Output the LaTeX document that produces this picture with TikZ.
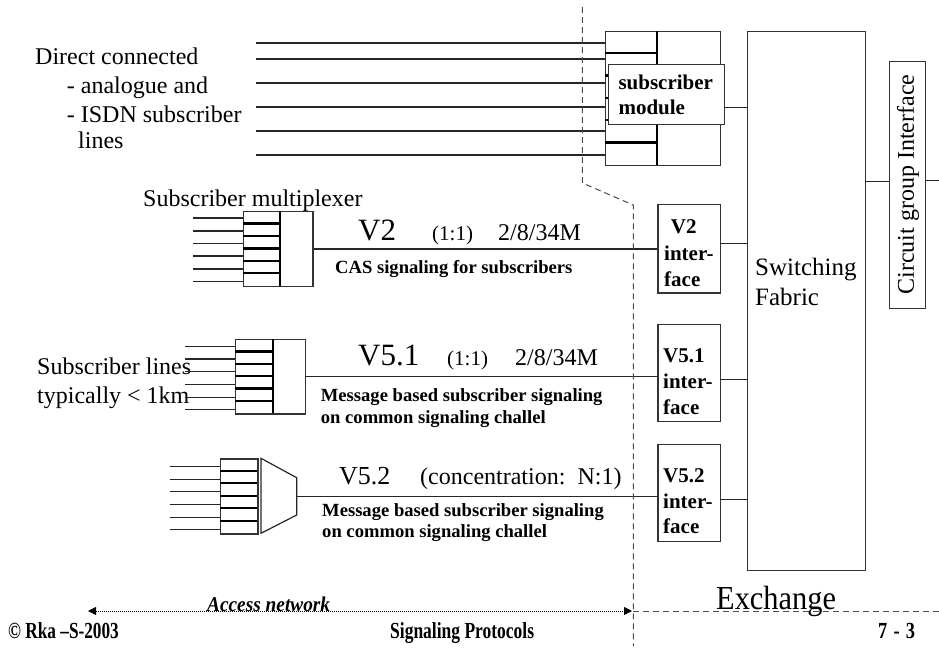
\documentclass[tikz,border=0pt]{standalone}
\usepackage{fontspec}
\setmainfont{Liberation Serif}
\usetikzlibrary{arrows.meta,calc}
\newcommand\fsz[2]{\fontsize{#1}{#2}\selectfont}
\begin{document}
\begin{tikzpicture}[x=1pt,y=-1pt,
  wire/.style={line width=1.1pt, draw=black!85},
  sepline/.style={line width=2.3pt, draw=black},
  boundary/.style={dash pattern=on 6pt off 4pt, line width=1pt, draw=black!70},
  box/.style={draw=black!80, line width=1.2pt, fill=white, inner sep=0pt, anchor=north west},
  lbl/.style={anchor=base west, inner sep=0pt},
  plain/.style={lbl, font=\fsz{24}{28}},
  big/.style={lbl, font=\fsz{31}{36}},
  note/.style={lbl, font=\bfseries\fsz{18.6}{22}},
  iftext/.style={lbl, font=\bfseries\fsz{21}{25}},
  foot/.style={lbl, font=\bfseries\fsz{23}{27}},
]
\useasboundingbox (0,0) rectangle (939,651);

% ---------- exchange side ----------
\node[box, minimum width=118.3pt, minimum height=539.3pt] (fabric) at (746.7,30.7) {};
\node[box, minimum width=36pt, minimum height=247.3pt] (cgi) at (889,60.7) {};
\node[rotate=90, font=\fsz{24}{28}, inner sep=0pt] (cgitext) at (908,184.5) {Circuit group Interface};
\node[plain, font=\fsz{25}{30}] (sw1) at (755,275) {Switching};
\node[plain, font=\fsz{25}{30}] (sw2) at (755,305) {Fabric};

\coordinate (cgin) at ([yshift=3.6pt]cgi.west);
\coordinate (cgout) at (939,180.7);
\draw[wire] (fabric.east |- cgin) -- (cgin);
\draw[wire] (cgi.east |- cgout) -- (cgout);

% ---------- directly connected subscriber lines ----------
\node[box, minimum width=115pt, minimum height=134.3pt] (tb) at (605,30.7) {};
\draw[sepline] (656.7,30.7) -- (656.7,165);
\foreach \k in {1,...,5} {
  \draw[sepline] (605,30.7+22.38*\k) -- (656.7,30.7+22.38*\k);
}
\foreach \y [count=\i] in {43,59,83,107,131,155} {
  \coordinate (d\i) at (256,\y);
  \draw[wire] (d\i) -- (tb.west |- d\i);
}
\node[box, minimum width=116pt, minimum height=60pt] (module) at (608,64) {};
\node[iftext] (mt1) at (618.3,89) {subscriber};
\node[iftext] (mt2) at (618.3,114) {module};
\draw[wire] ([yshift=-12.7pt]module.east) -- ([yshift=-12.7pt]module.east -| fabric.west);

\node[plain] (dc1) at (35,64) {Direct connected};
\node[plain] (dc2) at (66.7,93) {- analogue and};
\node[plain] (dc3) at (66.7,122) {- ISDN subscriber};
\node[plain] (dc4) at (78,148) {lines};

% ---------- V2 ----------
\node[plain] (muxlbl) at (143,206) {Subscriber multiplexer};
\node[box, minimum width=69.6pt, minimum height=74.7pt] (m2) at (242.7,211) {};
\draw[sepline] (280,211) -- (280,285.7);
\foreach \k in {1,...,5} {
  \draw[sepline] (242.7,211+12.45*\k) -- (280,211+12.45*\k);
}
\foreach \y [count=\i] in {218,231,243.3,256,269,281.7} {
  \coordinate (a\i) at (193,\y);
  \draw[wire] (a\i) -- (m2.west |- a\i);
}
\node[box, minimum width=62.7pt, minimum height=88.3pt] (v2if) at (657.3,204) {};
\draw[wire] (m2.east) -- (m2.east -| v2if.west);
\draw[wire] ([yshift=5pt]v2if.east) -- ([yshift=5pt]v2if.east -| fabric.west);
\node[iftext] (v2t1) at (670.7,233) {V2};
\node[iftext] (v2t2) at (664,260) {inter-};
\node[iftext] (v2t3) at (664,286) {face};

\node[big] (v2a) at (358,240) {V2};
\node[lbl, font=\fsz{21}{25}] (v2b) at (432,240) {(1:1)};
\node[plain] (v2c) at (498,240) {2/8/34M};
\node[note] (v2d) at (335,273) {CAS signaling for subscribers};

% ---------- V5.1 ----------
\node[plain] (sl1) at (37,374.3) {Subscriber lines};
\node[plain] (sl2) at (37,403.3) {typically < 1km};
\node[box, minimum width=70pt, minimum height=74.3pt] (m51) at (235,339) {};
\draw[sepline] (272.7,339) -- (272.7,413.3);
\foreach \k in {1,...,5} {
  \draw[sepline] (235,339+12.38*\k) -- (272.7,339+12.38*\k);
}
\foreach \y [count=\i] in {346.7,359,371.7,384.3,397.3,409.3} {
  \coordinate (b\i) at (185,\y);
  \draw[wire] (b\i) -- (m51.west |- b\i);
}
\node[box, minimum width=62.7pt, minimum height=97pt] (v51if) at (657.3,324) {};
\draw[wire] (m51.east) -- (m51.east -| v51if.west);
\draw[wire] ([yshift=-6.8pt]v51if.east) -- ([yshift=-6.8pt]v51if.east -| fabric.west);
\node[iftext] (v51t1) at (663,362.7) {V5.1};
\node[iftext] (v51t2) at (663,388) {inter-};
\node[iftext] (v51t3) at (663,414) {face};

\node[big] (v51a) at (358,365) {V5.1};
\node[lbl, font=\fsz{21}{25}] (v51b) at (447,365) {(1:1)};
\node[plain] (v51c) at (515,365) {2/8/34M};
\node[note] (v51d) at (320.7,401.7) {Message based subscriber signaling};
\node[note] (v51e) at (320.7,423.3) {on common signaling challel};

% ---------- V5.2 ----------
\node[box, minimum width=37.3pt, minimum height=75pt] (s52) at (220,458.3) {};
\foreach \k in {1,...,5} {
  \draw[sepline] (220,458.3+12.5*\k) -- (257.3,458.3+12.5*\k);
}
\foreach \y [count=\i] in {466.7,479.3,491.7,504.3,517.3,529.3} {
  \coordinate (c\i) at (170,\y);
  \draw[wire] (c\i) -- (s52.west |- c\i);
}
\draw[wire, line width=1.2pt, line join=miter] (261,458.3) -- (296.7,477.7) -- (296.7,515) -- (261,533.3) -- cycle;
\coordinate (conc) at (296.7,496.3);
\node[box, minimum width=62.7pt, minimum height=97pt] (v52if) at (657.3,444) {};
\draw[wire] (conc) -- (conc -| v52if.west);
\draw[wire] ([yshift=-6.5pt]v52if.east) -- ([yshift=-6.5pt]v52if.east -| fabric.west);
\node[iftext] (v52t1) at (663,482.7) {V5.2};
\node[iftext] (v52t2) at (663,508.3) {inter-};
\node[iftext] (v52t3) at (663,533.3) {face};

\node[lbl, font=\fsz{26}{30}] (v52a) at (339,484) {V5.2};
\node[plain] (v52b) at (420,484) {(concentration:~~N:1)};
\node[note] (v52d) at (322,516) {Message based subscriber signaling};
\node[note] (v52e) at (322,537.5) {on common signaling challel};

% ---------- access network / exchange border ----------
\draw[boundary] (582.3,7) -- (582.3,183) -- (633.3,205) -- (633.3,646);
\coordinate (exl) at (633.3,611);
\coordinate (exr) at (939,611);
\draw[boundary] (exl) -- (exr);
\node[plain, font=\fsz{32}{36}] (exch) at (716,609) {\scalebox{0.95}[1.05]{Exchange}};

\coordinate (anl) at (88,611);
\coordinate (anr) at (632,611);
\draw[line width=0.8pt, dash pattern=on 1pt off 1pt,
      {Triangle[length=8pt,width=8pt]}-{Triangle[length=8pt,width=8pt]}] (anl) -- (anr);
\node[lbl, font=\bfseries\itshape\fsz{21}{25}] (acc) at (207,611) {\scalebox{0.92}[1]{Access network}};

% ---------- footer ----------
\node[foot] (f1) at (8,638) {\scalebox{0.75}[1]{\textcopyright{} Rka –S-2003}};
\node[foot] (f2) at (390,638) {\scalebox{0.76}[1]{Signaling Protocols}};
\node[foot] (f3) at (878,638) {\scalebox{0.8}[1]{7\,\,-\,\,3}};
\end{tikzpicture}
\end{document}
